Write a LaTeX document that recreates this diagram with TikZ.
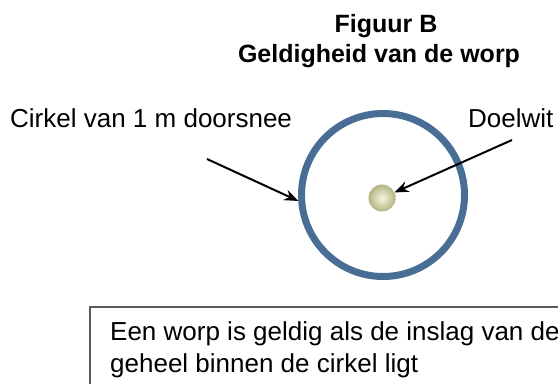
\documentclass[tikz,border=0pt]{standalone}
\usepackage{fontspec}
\setmainfont{Liberation Sans}
\usetikzlibrary{arrows.meta}
\definecolor{ringblue}{RGB}{72,110,150}
\definecolor{boxgrey}{RGB}{90,90,90}

\begin{document}
\begin{tikzpicture}[x=1bp,y=-1bp]
\tikzstyle{every node}=[font=\fontsize{26bp}{32bp}\selectfont, inner sep=0pt]
\tikzstyle{titel}=[font=\fontsize{25bp}{30bp}\selectfont\bfseries, anchor=base]
\tikzstyle{pijl}=[draw=black, line width=2bp, -{Stealth[length=14bp,width=11bp]}]

\useasboundingbox (0,0) rectangle (558,383);
\clip (0,0) rectangle (558,383);

% titel
\node[titel] (figuur) at (386,32) {Figuur B};
\node[titel] (geldig) at (379,62) {Geldigheid van de worp};

% cirkel en doelwit
\node[circle, draw=ringblue, line width=7bp, minimum size=163bp] (ring) at (383,195) {};
\node[circle, minimum size=27bp, shading=radial, inner color={rgb,255:red,246;green,246;blue,222},
      outer color={rgb,255:red,178;green,180;blue,130}] (bal) at (382,198) {};

% labels
\node[anchor=base west] (cirkellabel) at (10,127) {Cirkel van 1 m doorsnee};
\node[anchor=base west] (doelwit) at (468,127) {Doelwit};
\coordinate (c1) at (207,159);
\coordinate (d1) at (512,140);
\draw[pijl] (c1) -- (ring.184);
\draw[pijl] (d1) -- (bal);

% kader met uitleg
\draw[boxgrey, line width=2bp] (600,307) -| (90,420);
\node[anchor=base west, align=left] (uitleg) at (110,372)
  {Een worp is geldig als de inslag van de\\geheel binnen de cirkel ligt};

\end{tikzpicture}
\end{document}
